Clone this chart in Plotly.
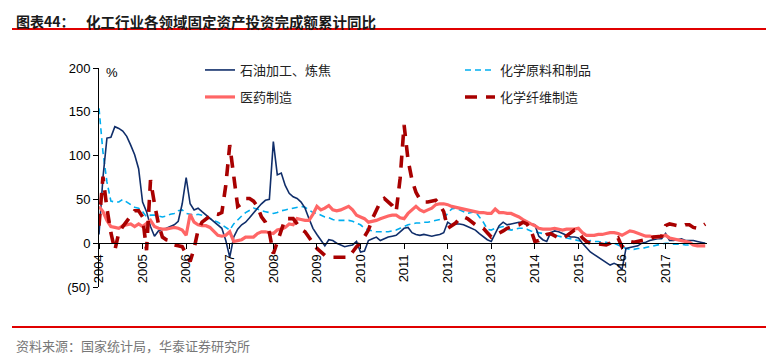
import plotly.graph_objects as go

years = list(range(2004, 2018))
tick_labels = [str(y) for y in years]
y_tickvals = [200, 150, 100, 50, 0, -50]
y_ticktext = ["200", "150", "100", "50", "0", "(50)"]

# cumulative YoY, Feb..Dec of each year (11 values per year)
petro = [
    10, 75, 120, 121, 133, 131, 128, 122, 112, 101, 85,
    47, 36, 19, 8, 14, 16, 17, 19, 21, 25, 45,
    75, 45, 38, 40, 36, 32, 29, 24, 21, 17, 3,
    -16, 7, 16, 21, 24, 29, 35, 40, 45, 49, 50,
    116, 78, 80, 66, 57, 53, 51, 47, 40, 28, 17,
    10, 3, -3, 4, 3, 0, -2, -4, -3, -2, 2,
    -10, -9, 3, 5, 7, 3, 5, 7, 8, 9, 13,
    17, 18, 12, 10, 9, 10, 9, 8, 9, 10, 12,
    24, 21, 22, 22, 21, 19, 17, 15, 11, 7, 4,
    2, 12, 20, 24, 21, 22, 23, 24, 24, 23, 22,
    21, 8, 4, 2, 12, 14, 13, 11, 9, 7, 7,
    6, 0, -5, -10, -13, -16, -20, -23, -25, -23, -25,
    -30, -6, -5, -4, -3, 0, 1, 3, 4, 5, 5,
    11, 3, 3, 4, 5, 3, 3, 3, 2, 1, 0,
]
chem = [
    154, 104, 70, 48, 47, 47, 50, 47, 43, 41, 40,
    36, 30, 32, 32, 31, 30, 31, 33, 34, 37, 38,
    34, 33, 32, 33, 32, 30, 28, 26, 24, 21, 18,
    15, 22, 27, 31, 35, 38, 40, 39, 37, 36, 35,
    34, 35, 37, 38, 39, 40, 41, 42, 41, 38, 35,
    34, 32, 30, 29, 27, 26, 26, 26, 26, 25, 23,
    21, 17, 15, 14, 13, 13, 13, 13, 14, 15, 17,
    19, 21, 22, 23, 23, 24, 24, 25, 26, 27, 28,
    34, 39, 40, 38, 36, 34, 35, 36, 30, 24, 16,
    15, 17, 18, 19, 16, 15, 16, 17, 17, 16, 14,
    13, 12, 11, 10, 9, 9, 8, 7, 6, 5, 4,
    3, 2, 2, 3, 2, 2, 1, 1, 0, 0, -2,
    -4, -6, -7, -7, -6, -6, -5, -4, -3, -2, -1,
    0, 0, -1, -1, -1, -2, -2, -1, -1, 0, 0,
]
pharma = [
    42, 36, 26, 19, 18, 17, 20, 21, 22, 19, 22,
    19, 23, 26, 19, 17, 16, 16, 17, 18, 17, 15,
    9, 33, 24, 21, 20, 20, 18, 14, 9, 8, 9,
    13, 2, 3, 4, 7, 7, 7, 11, 13, 13, 12,
    11, 15, 16, 18, 22, 21, 28, 27, 26, 26, 33,
    42, 38, 40, 43, 38, 37, 38, 40, 42, 38, 32,
    30, 28, 24, 25, 26, 28, 30, 31, 32, 32, 29,
    28, 34, 38, 42, 38, 36, 38, 40, 44, 45, 45,
    44, 42, 41, 40, 39, 38, 37, 36, 35, 35, 34,
    34, 39, 35, 35, 34, 34, 32, 30, 27, 24, 22,
    20, 17, 16, 16, 16, 17, 16, 15, 16, 16, 16,
    17, 12, 9, 9, 9, 10, 10, 11, 12, 12, 11,
    9, 11, 14, 13, 11, 10, 8, 8, 7, 7, 8,
    9, 6, 5, 4, 3, 2, 1, -2, -3, -3, -3,
]
fiber = [
    20, 76, 40, 12, -8, 12, 19, 25, 32, 37, 37,
    30, -8, 72, 45, 22, 7, 4, 3, -2, -3, -4,
    -12, -21, -6, 15, 24, 28, 31, 34, 33, 35, 66,
    112, 80, 42, 45, 51, 51, 48, 42, 30, 24, 12,
    -12, 2, 17, 28, 28, 28, 22, 16, 13, 7, 0,
    -6, -10, -14, -16, -16, -17, -17, -17, -16, -10, -4,
    0, 7, 15, 28, 38, 47, 51, 47, 43, 36, 74,
    135, 95, 72, 58, 50, 47, 47, 48, 49, 44, 36,
    17, 20, 23, 28, 30, 28, 24, 21, 19, 17, 12,
    7, 9, 11, 14, 17, 19, 20, 21, 24, 22, 15,
    2, 3, 7, 10, 11, 8, 6, 5, 8, 12, 15,
    13, 6, 2, 0, 0, -1, -2, -2, 0, 4, 6,
    -4, 1, 2, 1, 2, 2, 3, 5, 7, 7, 8,
    20, 22, 21, 20, 19, 21, 21, 18, 17, 19, 22,
]

x = [y + k / 11 for y in years for k in range(11)]

TXT = "Liberation Sans, Arial, sans-serif"
CJK = "Noto Sans CJK SC"

fig = go.Figure()
fig.add_trace(go.Scatter(x=x, y=chem, name="化学原料和制品", mode="lines",
                         line=dict(color="#00AEEF", width=1.6, dash="6px,4px"),
                         legend="legend3"))
fig.add_trace(go.Scatter(x=x, y=petro, name="石油加工、炼焦", mode="lines",
                         line=dict(color="#102E6A", width=1.6),
                         legend="legend"))
fig.add_trace(go.Scatter(x=x, y=pharma, name="医药制造", mode="lines",
                         line=dict(color="#FF6666", width=3.2),
                         legend="legend2"))
fig.add_trace(go.Scatter(x=x, y=fiber, name="化学纤维制造", mode="lines",
                         line=dict(color="#A80000", width=3.6, dash="12px,9px"),
                         legend="legend4"))


# helpers: page-pixel position -> paper fraction (plot area spans page x 99..707, y 68..287)
def px_x(p):
    return (p - 99) / 608


def px_y(p):
    return (287 - p) / 219


leg_common = dict(orientation="h", xanchor="left", yanchor="middle",
                  font=dict(family=CJK, size=13, color="#222"),
                  bgcolor="rgba(0,0,0,0)")

# page has an 8px body margin; figure is sized to fit the 778x359 window
fig.update_layout(
    width=770, height=351,
    margin=dict(l=91, r=71, t=60, b=72),
    paper_bgcolor="white", plot_bgcolor="white",
    showlegend=True,
    xaxis=dict(range=[2004, 2017.95], tickvals=years, ticktext=tick_labels,
               tickangle=-90, ticks="outside", ticklen=5, tickcolor="black",
               showline=True, linecolor="black", linewidth=1,
               anchor="free", position=0.2, showgrid=False, zeroline=False,
               automargin=False,
               tickfont=dict(family=TXT, size=13, color="black")),
    yaxis=dict(range=[-50, 200], tickvals=y_tickvals, ticktext=y_ticktext,
               ticks="outside", ticklen=5, tickcolor="black",
               showline=True, linecolor="black", linewidth=1,
               showgrid=False, zeroline=False, automargin=False,
               tickfont=dict(family=TXT, size=13, color="black")),
    legend=dict(x=px_x(200), y=px_y(70), **leg_common),
    legend3=dict(x=px_x(460), y=px_y(70), **leg_common),
    legend2=dict(x=px_x(200), y=px_y(97), **leg_common),
    legend4=dict(x=px_x(460), y=px_y(97), **leg_common),
)

fig.add_annotation(x=px_x(112), y=px_y(72), xref="paper", yref="paper",
                   text="%", showarrow=False, xanchor="center", yanchor="middle",
                   font=dict(family=TXT, size=13, color="black"))
fig.add_annotation(x=px_x(14), y=px_y(8.5), xref="paper", yref="paper",
                   text="<b>图表44：</b>", showarrow=False, xanchor="left", yanchor="top",
                   font=dict(family=CJK, size=14, color="#1a1a1a"))
fig.add_annotation(x=px_x(84), y=px_y(8.5), xref="paper", yref="paper",
                   text="<b>化工行业各领域固定资产投资完成额累计同比</b>", showarrow=False,
                   xanchor="left", yanchor="top",
                   font=dict(family=CJK, size=14.5, color="#1a1a1a"))
fig.add_annotation(x=px_x(14), y=px_y(345), xref="paper", yref="paper",
                   text="资料来源：国家统计局，华泰证券研究所", showarrow=False,
                   xanchor="left", yanchor="middle",
                   font=dict(family=CJK, size=13, color="#777"))
fig.add_shape(type="line", xref="paper", yref="paper",
              x0=px_x(12), x1=px_x(766), y0=px_y(29), y1=px_y(29),
              line=dict(color="#E00000", width=2))
fig.add_shape(type="line", xref="paper", yref="paper",
              x0=px_x(12), x1=px_x(766), y0=px_y(327), y1=px_y(327),
              line=dict(color="#E00000", width=2))

fig.write_html("out.html")
